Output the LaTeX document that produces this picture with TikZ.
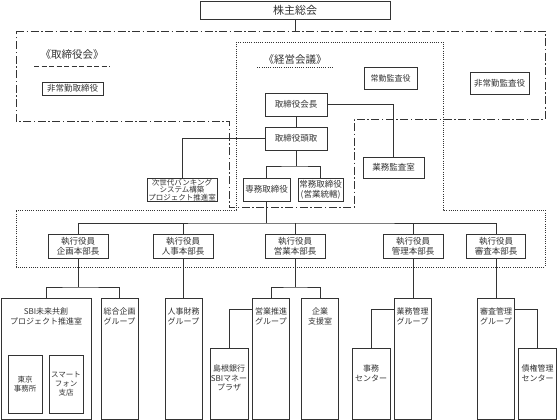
\documentclass[tikz,border=0pt]{standalone}
\usepackage{fontspec}
\newfontfamily\jpfont{Noto Sans CJK JP}
\usetikzlibrary{positioning}

\begin{document}
\begin{tikzpicture}[x=1pt, y=-1pt, color=black!80, line width=0.8pt, font=\jpfont]
	\tikzstyle{box}=[draw, rectangle, fill=white, align=center, inner sep=1pt, font=\jpfont\fontsize{8.5}{10}\selectfont]
	\tikzstyle{small}=[box, font=\jpfont\fontsize{7.5}{9}\selectfont]
	\tikzstyle{exec}=[box, minimum width=60pt, minimum height=24pt]
	\tikzstyle{grp}=[draw, rectangle, fill=white, minimum width=37pt, minimum height=121pt, inner sep=0pt]
	\tikzstyle{sub}=[draw, rectangle, fill=white, minimum width=38pt, minimum height=71pt, inner sep=0pt]
	\tikzstyle{tag}=[anchor=north, align=center, inner sep=1pt, font=\jpfont\fontsize{8}{9.5}\selectfont]
	\tikzstyle{title}=[inner xsep=6pt, font=\jpfont\fontsize{10.5}{12}\selectfont]
	\tikzstyle{dashdot}=[line width=0.9pt, dash pattern=on 8pt off 2.5pt on 1.5pt off 2.5pt]
	\tikzstyle{dots}=[line width=0.8pt, dash pattern=on 1pt off 1.2pt]
	
	\useasboundingbox (0,0) rectangle (557,420);
	
	\draw[dashdot] (16,31) -- (545,31) -- (545,119) -- (354,119) -- (354,207) -- (229,207) -- (229,121) -- (16,121) -- cycle;
	\draw[dots] (236,42) -- (443,42) -- (443,210) -- (545,210) -- (545,267) -- (16,267) -- (16,210) -- (236,210) -- cycle;
	
	\node[box, minimum width=190pt, minimum height=18pt, font=\jpfont\fontsize{11}{12}\selectfont] (agm) at (295,10) {株主総会};
	\coordinate (board) at (295,31);
	
	\node[title, inner ysep=6.5pt] (boardttl) at (72,55) {《取締役会》};
	\node[title, inner ysep=2.5pt] (mgmtttl) at (295,60) {《経営会議》};
	
	\node[box, minimum width=61pt, minimum height=13pt] (outdir) at (72.5,88.5) {非常勤取締役};
	\node[box, minimum width=53pt, minimum height=22pt, font=\jpfont\fontsize{8}{10}\selectfont] (fullaud) at (390.5,78) {常勤監査役};
	\node[box, minimum width=59pt, minimum height=22pt] (outaud) at (499.5,83) {非常勤監査役};
	\node[box, minimum width=62pt, minimum height=23pt] (chair) at (296,104.5) {取締役会長};
	\node[box, minimum width=62pt, minimum height=23pt] (pres) at (296,138.5) {取締役頭取};
	\node[box, minimum width=61pt, minimum height=21pt] (iaudit) at (393.5,167.5) {業務監査室};
	\node[box, minimum width=70pt, minimum height=22pt, inner sep=0.5pt, font=\jpfont\fontsize{7.5}{7.3}\selectfont] (nextgen) at (182,190) {次世代バンキング\\システム構築\\プロジェクト推進室};
	\node[box, minimum width=47pt, minimum height=23pt] (senmu) at (266.5,189.5) {専務取締役};
	\node[box, minimum width=45pt, minimum height=23pt] (jomu) at (320.5,189.5) {常務取締役\\(営業統轄)};
	\coordinate (split) at (296,166);
	
	\node[exec] (kikaku) at (78,246) {執行役員\\企画本部長};
	\node[exec] (jinji) at (183,246) {執行役員\\人事本部長};
	\node[exec] (eigyo) at (295,246) {執行役員\\営業本部長};
	\node[exec] (kanri) at (413,246) {執行役員\\管理本部長};
	\node[exec, minimum width=59pt] (shinsa) at (496,246) {執行役員\\審査本部長};
	\coordinate (bus) at (295,223);
	
	\node[grp, minimum width=90pt, label={[tag, yshift=-9pt]north:SBI未来共創\\プロジェクト推進室}] (sbi) at (46,358.5) {};
	\node[small, minimum width=34pt, minimum height=58pt] (tokyo) at (25,384) {東京\\事務所};
	\node[small, minimum width=34pt, minimum height=58pt] (phone) at (66,384) {スマート\\フォン\\支店};
	\node[grp, label={[tag, yshift=-9pt]north:総合企画\\グループ}] (sogo) at (119.5,358.5) {};
	\node[grp, label={[tag, yshift=-9pt]north:人事財務\\グループ}] (hrfin) at (183.5,358.5) {};
	\node[sub, label={[tag, yshift=-16pt]north:島根銀行\\SBIマネー\\プラザ}] (shimane) at (229,383.5) {};
	\node[grp, label={[tag, yshift=-9pt]north:営業推進\\グループ}] (sales) at (271,358.5) {};
	\node[grp, label={[tag, yshift=-9pt]north:企業\\支援室}] (corp) at (320,358.5) {};
	\node[sub, label={[tag, yshift=-16pt]north:事務\\センター}] (office) at (371,383.5) {};
	\node[grp, label={[tag, yshift=-9pt]north:業務管理\\グループ}] (ops) at (412.5,358.5) {};
	\node[grp, label={[tag, yshift=-9pt]north:審査管理\\グループ}] (credit) at (496,358.5) {};
	\node[sub, label={[tag, yshift=-16pt]north:債権管理\\センター}] (claims) at (537.5,383.5) {};
	\coordinate (kfork) at (78,287);
	\coordinate (efork) at (295,287);
	
	\draw (agm) -- (board);
	\draw[dash pattern=on 5pt off 2.5pt] (boardttl.south west) -- (boardttl.south east);
	\draw[dots, line width=0.8pt] (mgmtttl.south west) -- (mgmtttl.south east);
	\draw (chair) -- (pres);
	\draw (chair.east) -| (iaudit.north);
	\draw (pres.west) -| (nextgen.north);
	\draw (pres.south) -- (split);
	\draw (senmu.north) |- (split) -| (jomu.north);
	\draw (senmu.south) -- (senmu.south |- bus);
	\draw (kikaku.north) |- (bus) -| (shinsa.north);
	\draw (jinji.north) -- (jinji.north |- bus);
	\draw (eigyo.north) -- (bus);
	\draw (kanri.north) -- (kanri.north |- bus);
	\draw (kikaku.south) -- (kfork);
	\draw (sbi.north) |- (kfork) -| (sogo.north);
	\draw (jinji.south) -- (jinji.south |- hrfin.north);
	\draw (eigyo.south) -- (efork);
	\draw (sales.north) |- (efork) -| (corp.north);
	\draw ([yshift=-12pt]sales.north west) -| (shimane.north);
	\draw (kanri.south) -- (kanri.south |- ops.north);
	\draw ([yshift=-12pt]ops.north west) -| (office.north);
	\draw (shinsa.south) -- (shinsa.south |- credit.north);
	\draw ([yshift=-12pt]credit.north east) -| (claims.north);
\end{tikzpicture}
\end{document}
